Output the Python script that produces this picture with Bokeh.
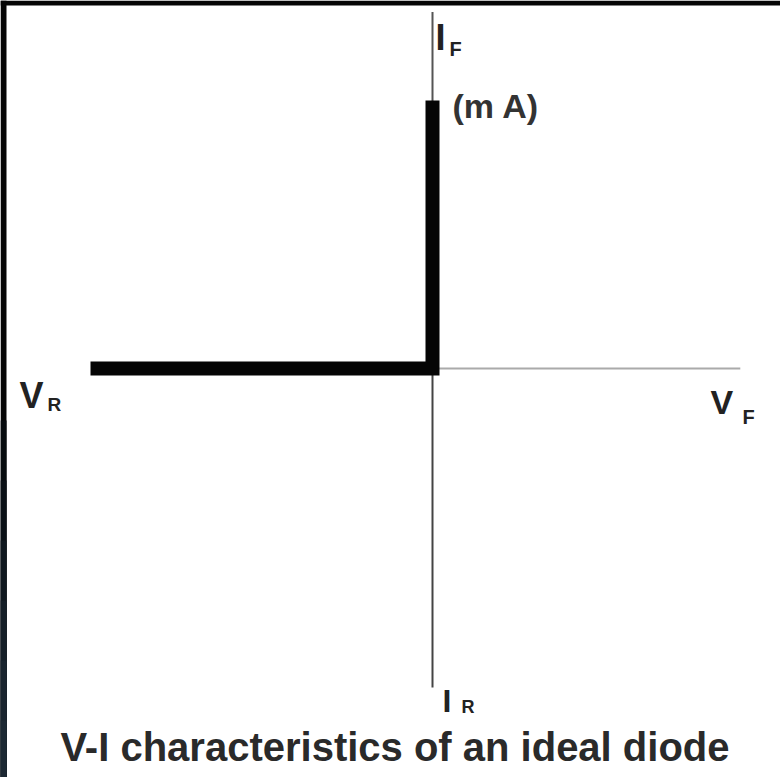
from bokeh.plotting import figure
from bokeh.models import Range1d, Label, BoxAnnotation
from bokeh.embed import file_html
from bokeh.resources import INLINE

# Ideal diode V-I characteristic (normalised units)
v_curve = [-1.0, 0.0, 0.0]   # voltage: reverse bias up to 0, then vertical at 0
i_curve = [0.0, 0.0, 1.0]    # current: zero in reverse, rises in forward
v_axis = [-1.0, 0.90]        # extent of the voltage axis
i_axis = [-1.19, 1.33]       # extent of the current axis

x_per_px = 1 / 342.0
y_per_px = 1 / 268.0

def X(px):
    return (px - 432) * x_per_px

def Y(px):
    return (368 - px) * y_per_px

p = figure(width=780, height=777, output_backend="svg", toolbar_location=None,
           x_range=Range1d(X(0), X(780)), y_range=Range1d(Y(777), Y(0)),
           min_border=0, border_fill_color="white", background_fill_color="white")
p.axis.visible = False
p.grid.visible = False
p.outline_line_color = None

# dark frame along the top edge and a left edge that fades to slate;
# each band runs to the bottom and is overlaid by the next, so no seams show
p.add_layout(BoxAnnotation(bottom=Y(5), fill_color="#050505", fill_alpha=1, line_alpha=0))
edge_steps = [(0, "#050505"), (420, "#070b0e"), (480, "#0b1116"), (540, "#10181f"),
              (600, "#151f28"), (660, "#19242e"), (720, "#1c2833")]
for top_px, col in edge_steps:
    p.add_layout(BoxAnnotation(right=X(6), top=Y(top_px),
                               fill_color=col, fill_alpha=1, line_alpha=0))

# thin coordinate axes
p.line([0, 0], [0, i_axis[1]], line_color="#555555", line_width=2)
p.line([0, 0], [i_axis[0], 0], line_color="#444444", line_width=2)
p.line([0, v_axis[1]], [0, 0], line_color="#aaaaaa", line_width=2)

# characteristic curve
p.line(v_curve, i_curve, line_color="#050505", line_width=14,
       line_join="miter", line_cap="butt")

font = "Liberation Sans"

def lab(xp, yp, text, size, color="#222222", style="bold", anchor="left", baseline="alphabetic"):
    p.add_layout(Label(x=X(xp), y=Y(yp), text=text, text_font=font,
                       text_font_size=f"{size}px", text_color=color,
                       text_font_style=style, text_align=anchor,
                       text_baseline=baseline))

# I_F and unit
lab(435, 37, "I", 36)
lab(449, 48, "F", 20)
lab(452, 105, "(m A)", 34, color="#333333")

# V_R (left)
lab(19, 395, "V", 36)
lab(47, 404, "R", 19)

# V_F (right)
lab(710, 401, "V", 34)
lab(742, 416, "F", 20)

# I_R (bottom)
lab(442, 700, "I", 32)
lab(461, 706, "R", 18)

# caption
lab(400, 746, "V-I  characteristics of an ideal diode", 40,
    color="#2a2a2a", style="bold", anchor="center", baseline="middle")

open("out.html", "w").write(file_html(p, INLINE))
